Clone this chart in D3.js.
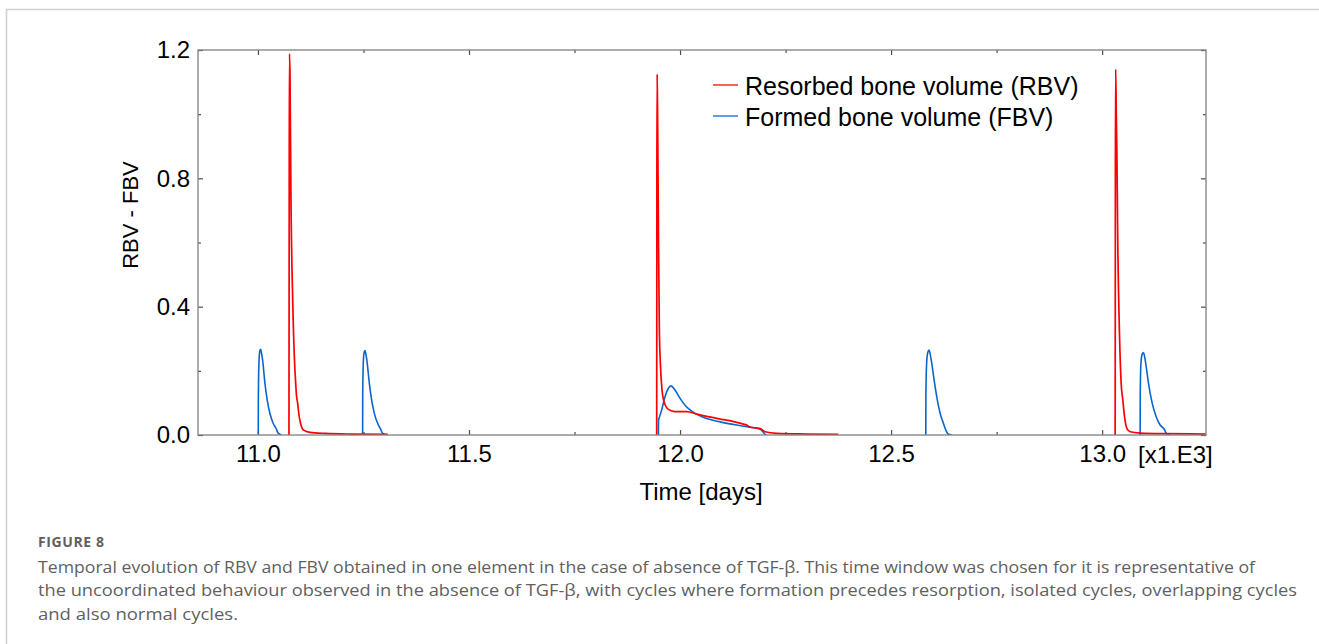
<!DOCTYPE html>
<html>
<head>
<meta charset="utf-8">
<style>
  body { margin: 0; background: #fff; }
  svg { display: block; }
  .axis .tick text { font-family: "Liberation Sans", Arial, sans-serif; font-size: 24px; fill: #000; }
  .axis .tick line { stroke: #4d4d4d; stroke-width: 1.2; }
  .axis path.domain { display: none; }
  .frame { fill: none; stroke: #808080; stroke-width: 1.3; }
  .lbl { font-family: "Liberation Sans", Arial, sans-serif; fill: #000; }
  .caption { font-family: "Open Sans", "Noto Sans", sans-serif; fill: #5f5f5f; }
</style>
<script src="https://d3js.org/d3.v7.min.js"></script>
</head>
<body>
<svg id="chart" width="1319" height="644"></svg>
<script>
// time in thousands of days, value = RBV / FBV; null = gap between cycles
var rbvPoints = [
  [11.0735, 0], [11.0742, 0.9], [11.0748, 1.188], [11.0760, 1.12], [11.0782, 0.743],
  [11.0822, 0.431], [11.0869, 0.223], [11.0895, 0.160], [11.0912, 0.125], [11.0940, 0.100],
  [11.0975, 0.060], [11.1011, 0.036], [11.1074, 0.016], [11.1232, 0.008], [11.16, 0.005],
  [11.22, 0.003], [11.308, 0.002],
  null,
  [11.9447, 0], [11.9451, 0.8], [11.9457, 1.125], [11.9468, 1.0], [11.9490, 0.60],
  [11.9510, 0.327], [11.9534, 0.223], [11.9573, 0.140], [11.9621, 0.104], [11.9723, 0.080],
  [11.9882, 0.073], [12.0158, 0.073], [12.0395, 0.065], [12.0869, 0.052], [12.1500, 0.034],
  [12.1596, 0.030], [12.1640, 0.025], [12.1896, 0.020], [12.2014, 0.010], [12.2290, 0.005],
  [12.30, 0.003], [12.375, 0.002],
  null,
  [13.0308, 0], [13.0313, 0.8], [13.0320, 1.140], [13.0335, 1.0], [13.0348, 0.888],
  [13.0372, 0.577], [13.0410, 0.317], [13.0450, 0.161], [13.0490, 0.109], [13.0530, 0.057],
  [13.0585, 0.021], [13.0664, 0.010], [13.09, 0.006], [13.15, 0.004], [13.246, 0.003]
];

var fbvPoints = [
  [11.0008, 0], [11.0010, 0.12], [11.0025, 0.230], [11.0045, 0.262], [11.0063, 0.267],
  [11.0085, 0.255], [11.0110, 0.234], [11.0166, 0.161], [11.0220, 0.109], [11.0284, 0.067],
  [11.0363, 0.036], [11.0427, 0.021], [11.0482, 0.005], [11.0560, 0],
  null,
  [11.2480, 0], [11.2482, 0.12], [11.2497, 0.228], [11.2517, 0.258], [11.2536, 0.263],
  [11.2558, 0.252], [11.2583, 0.230], [11.2640, 0.160], [11.2695, 0.108], [11.2760, 0.066],
  [11.2840, 0.035], [11.2900, 0.020], [11.2955, 0.005], [11.3050, 0],
  null,
  [11.9487, 0], [11.9490, 0.045], [11.9510, 0.055], [11.9565, 0.078], [11.9645, 0.120],
  [11.9720, 0.145], [11.9787, 0.153], [11.9880, 0.140], [12.0000, 0.114], [12.0118, 0.093],
  [12.0237, 0.078], [12.0550, 0.055], [12.0948, 0.041], [12.1580, 0.026], [12.1896, 0.018],
  [12.1959, 0.011], [12.2014, 0.002], [12.2050, 0],
  null,
  [12.5822, 0], [12.5824, 0.12], [12.5842, 0.225], [12.5870, 0.258], [12.5900, 0.265],
  [12.5925, 0.252], [12.5964, 0.223], [12.6019, 0.171], [12.6082, 0.119], [12.6161, 0.068],
  [12.6240, 0.036], [12.6295, 0.016], [12.6358, 0.002], [12.6440, 0],
  null,
  [13.0900, 0], [13.0902, 0.12], [13.0918, 0.222], [13.0948, 0.252], [13.0979, 0.257],
  [13.1005, 0.245], [13.1043, 0.213], [13.1098, 0.161], [13.1177, 0.104], [13.1280, 0.057],
  [13.1374, 0.031], [13.1470, 0.018], [13.1533, 0.003], [13.1610, 0]
];

var xMajorTicks = [11.0, 11.5, 12.0, 12.5, 13.0];
var xMinorTicks = [11.25, 11.75, 12.25, 12.75];
var xTickLabels = ["11.0", "11.5", "12.0", "12.5", "13.0"];
var yMajorTicks = [0, 0.4, 0.8, 1.2];
var yMinorTicks = [0.2, 0.6, 1.0];
var yTickLabels = ["0.0", "0.4", "0.8", "1.2"];

var seriesNames = ["Resorbed bone volume (RBV)", "Formed bone volume (FBV)"];
var seriesColors = ["#ff0000", "#0b66cc"];

var captionTitle = "FIGURE 8";
var captionLines = [
  "Temporal evolution of RBV and FBV obtained in one element in the case of absence of TGF-\u03b2. This time window was chosen for it is representative of",
  "the uncoordinated behaviour observed in the absence of TGF-\u03b2, with cycles where formation precedes resorption, isolated cycles, overlapping cycles",
  "and also normal cycles."
];

(function() {
  var svg = d3.select("#chart");

  // card border
  svg.append("path")
    .attr("d", "M6.5,644 V9.5 H1319")
    .attr("fill", "none")
    .attr("stroke", "#cfcfcf")
    .attr("stroke-width", 1.6);

  var pL = 198, pR = 1206, pT = 50, pB = 435;

  var x = d3.scaleLinear().domain([10.858, 13.246]).range([pL, pR]);
  var y = d3.scaleLinear().domain([0, 1.2]).range([pB, pT]);

  svg.append("defs").append("clipPath").attr("id", "plotclip")
    .append("rect")
    .attr("x", pL).attr("y", pT - 2)
    .attr("width", pR - pL).attr("height", pB - pT + 2);

  // axes (ticks point inward)
  svg.append("g").attr("class", "axis")
    .attr("transform", "translate(0," + pB + ")")
    .call(d3.axisBottom(x).tickValues(xMajorTicks).tickSize(-5).tickPadding(10)
      .tickFormat(function(d, i) { return xTickLabels[i]; }));
  svg.append("g").attr("class", "axis")
    .attr("transform", "translate(0," + pB + ")")
    .call(d3.axisBottom(x).tickValues(xMinorTicks).tickSize(-3).tickFormat(""));
  svg.append("g").attr("class", "axis")
    .attr("transform", "translate(0," + pT + ")")
    .call(d3.axisTop(x).tickValues(xMajorTicks).tickSize(-5).tickFormat(""));
  svg.append("g").attr("class", "axis")
    .attr("transform", "translate(0," + pT + ")")
    .call(d3.axisTop(x).tickValues(xMinorTicks).tickSize(-3).tickFormat(""));

  svg.append("g").attr("class", "axis")
    .attr("transform", "translate(" + pL + ",0)")
    .call(d3.axisLeft(y).tickValues(yMajorTicks).tickSize(-5).tickPadding(8)
      .tickFormat(function(d, i) { return yTickLabels[i]; }));
  svg.append("g").attr("class", "axis")
    .attr("transform", "translate(" + pL + ",0)")
    .call(d3.axisLeft(y).tickValues(yMinorTicks).tickSize(-3).tickFormat(""));
  svg.append("g").attr("class", "axis")
    .attr("transform", "translate(" + pR + ",0)")
    .call(d3.axisRight(y).tickValues(yMajorTicks).tickSize(-5).tickFormat(""));
  svg.append("g").attr("class", "axis")
    .attr("transform", "translate(" + pR + ",0)")
    .call(d3.axisRight(y).tickValues(yMinorTicks).tickSize(-3).tickFormat(""));

  // lines
  var line = d3.line()
    .defined(function(d) { return d !== null; })
    .x(function(d) { return x(d[0]); })
    .y(function(d) { return y(d[1]); })
    .curve(d3.curveMonotoneX);

  var plot = svg.append("g").attr("clip-path", "url(#plotclip)");
  plot.append("path").datum(fbvPoints)
    .attr("d", line).attr("fill", "none")
    .attr("stroke", seriesColors[1]).attr("stroke-width", 1.6);
  plot.append("path").datum(rbvPoints)
    .attr("d", line).attr("fill", "none")
    .attr("stroke", seriesColors[0]).attr("stroke-width", 1.7);

  svg.append("rect").attr("class", "frame")
    .attr("x", pL).attr("y", pT)
    .attr("width", pR - pL).attr("height", pB - pT);

  // axis titles
  svg.append("text").attr("class", "lbl")
    .attr("x", 1138).attr("y", 463)
    .attr("font-size", 24)
    .text("[x1.E3]");
  svg.append("text").attr("class", "lbl")
    .attr("x", 701).attr("y", 500)
    .attr("text-anchor", "middle")
    .attr("font-size", 24)
    .text("Time [days]");
  svg.append("text").attr("class", "lbl")
    .attr("transform", "translate(138,215) rotate(-90)")
    .attr("text-anchor", "middle")
    .attr("font-size", 22)
    .text("RBV - FBV");

  // legend
  var legend = svg.append("g").attr("transform", "translate(713,85)");
  seriesNames.forEach(function(name, i) {
    var g = legend.append("g").attr("transform", "translate(0," + (i * 31) + ")");
    g.append("line").attr("x1", 0).attr("x2", 25).attr("y1", 0).attr("y2", 0)
      .attr("stroke", seriesColors[i]).attr("stroke-width", 1.5).attr("opacity", 0.85);
    g.append("text").attr("class", "lbl")
      .attr("x", 32).attr("y", 9.5)
      .attr("font-size", 25)
      .text(name);
  });

  // caption
  svg.append("text").attr("class", "caption")
    .attr("x", 38).attr("y", 547)
    .attr("font-size", 14).attr("font-weight", 700)
    .attr("letter-spacing", 0.6)
    .attr("fill", "#555")
    .text(captionTitle);

  var captionWidths = [1217, 1259, 200];
  captionLines.forEach(function(t, i) {
    svg.append("text").attr("class", "caption")
      .attr("x", 38).attr("y", 572.5 + i * 23.5)
      .attr("font-size", 16.5)
      .attr("textLength", captionWidths[i])
      .attr("lengthAdjust", "spacingAndGlyphs")
      .text(t);
  });
})();
</script>
</body>
</html>
